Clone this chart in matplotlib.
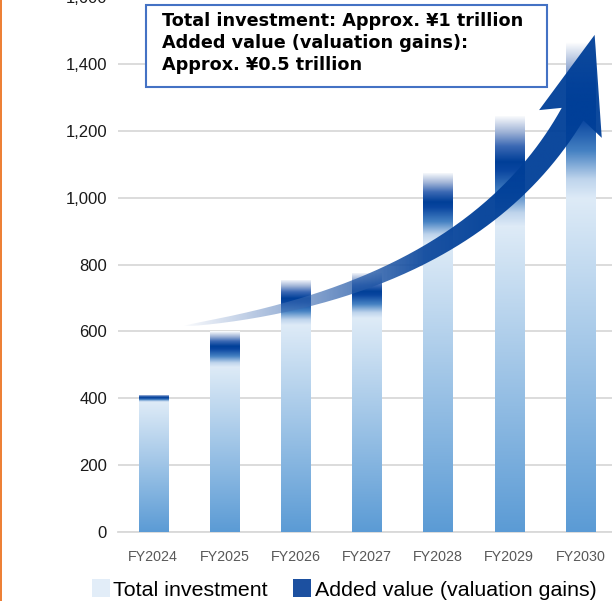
import numpy as np
import matplotlib.pyplot as plt
from matplotlib.patches import Patch, PathPatch, Rectangle
from matplotlib.path import Path
from matplotlib.lines import Line2D
from matplotlib.ticker import FuncFormatter

plt.rcParams["font.family"] = ["Liberation Sans", "DejaVu Sans"]

years = ["FY2024", "FY2025", "FY2026", "FY2027", "FY2028", "FY2029", "FY2030"]
total_investment = [388, 495, 620, 640, 865, 915, 1000]
added_value = [22, 105, 135, 135, 210, 330, 465]
y_ticks = [0, 200, 400, 600, 800, 1000, 1200, 1400, 1600]

legend_labels = ["Total investment", "Added value (valuation gains)"]
box_text = ("Total investment: Approx. \u00a51 trillion\n"
            "Added value (valuation gains):\n"
            "Approx. \u00a50.5 trillion")

# decorative growth arrow (data coords): bezier start, control, end, tip, barbs
arrow_start = (0.42, 616)
arrow_ctrl = (4.46, 724)
arrow_end = (5.89, 1250)
arrow_tip = (6.20, 1487)
arrow_barb_left = (5.42, 1262)
arrow_barb_right = (6.30, 1179)

# gradient stops, position 0 = bottom of the segment
invest_stops = [(0.0, (91, 155, 213)), (1.0, (222, 235, 247))]
added_stops = [(0.0, (221, 234, 247)), (0.12, (190, 212, 236)), (0.3, (70, 130, 195)),
               (0.5, (10, 70, 160)), (0.58, (0, 63, 152)), (0.72, (60, 105, 180)),
               (0.85, (160, 180, 215)), (1.0, (255, 255, 255))]


def gradient(stops, n=256):
    pos = [s[0] for s in stops]
    cols = np.array([s[1] for s in stops]) / 255
    t = np.linspace(0, 1, n)
    rgb = np.stack([np.interp(t, pos, cols[:, k]) for k in range(3)], axis=1)
    return rgb[:, None, :]


def fill_bars(ax, bars, stops):
    img = gradient(stops)
    for b in bars:
        b.set_facecolor("none")
        b.set_edgecolor("none")
        x0, y0 = b.get_x(), b.get_y()
        im = ax.imshow(img, extent=[x0, x0 + b.get_width(), y0, y0 + b.get_height()],
                       origin="lower", aspect="auto", interpolation="bilinear", zorder=2)
        im.set_clip_path(b)


fig = plt.figure(figsize=(6.12, 6.01), dpi=100)
ax = fig.add_axes([117.5 / 612, 69 / 601, 498.5 / 612, 534.9 / 601])

x = np.arange(len(years))
inv_bars = ax.bar(x, total_investment, width=0.41, zorder=2)
add_bars = ax.bar(x, added_value, width=0.41, bottom=total_investment, zorder=2)
fill_bars(ax, inv_bars, invest_stops)
fill_bars(ax, add_bars, added_stops)

ax.set_xlim(-0.5, 6.5)
ax.set_ylim(0, 1600)
ax.set_yticks(y_ticks)
ax.yaxis.set_major_formatter(FuncFormatter(lambda v, p: f"{int(v):,}"))
ax.set_xticks(x)
ax.set_xticklabels(years)
ax.tick_params(axis="y", length=0, pad=7.5, labelsize=12, labelcolor="#1a1a1a")
ax.tick_params(axis="x", length=0, pad=13, labelsize=10.3, labelcolor="#595959")
ax.grid(axis="y", color="#d9d9d9", linewidth=1.3, zorder=0)
ax.axhline(0, color="#d9d9d9", linewidth=1.3, clip_on=False, zorder=0.5)
ax.set_axisbelow(True)
for s in ax.spines.values():
    s.set_visible(False)

# arrow built in display space so the width is in pixels
to_px = ax.transData.transform
to_data = ax.transData.inverted().transform
p0, p1, p2 = to_px(arrow_start), to_px(arrow_ctrl), to_px(arrow_end)
t = np.linspace(0, 1, 200)[:, None]
curve = (1 - t) ** 2 * p0 + 2 * (1 - t) * t * p1 + t ** 2 * p2
tang = 2 * (1 - t) * (p1 - p0) + 2 * t * (p2 - p1)
tang = tang / np.linalg.norm(tang, axis=1)[:, None]
normal = np.column_stack([-tang[:, 1], tang[:, 0]])
half_w = 12.5 * t ** 0.6
upper = curve + normal * half_w
lower = curve - normal * half_w
head = to_px([arrow_barb_left, arrow_tip, arrow_barb_right])
poly_px = np.vstack([upper, head, lower[::-1]])
poly = to_data(poly_px)
arrow_patch = PathPatch(Path(poly, closed=False), facecolor="none", edgecolor="none")
ax.add_patch(arrow_patch)

xs_px = np.linspace(poly_px[:, 0].min(), poly_px[:, 0].max(), 300)
frac = np.clip((xs_px - poly_px[:, 0].min()) / 240, 0, 1)
alpha = frac ** 0.7
tail_col = np.array([140, 165, 210]) / 255
head_col = np.array([0, 63, 152]) / 255
mix = np.clip((xs_px - poly_px[:, 0].min()) / 300, 0, 1) ** 0.6
rgba = np.zeros((1, len(xs_px), 4))
rgba[0, :, :3] = tail_col * (1 - mix[:, None]) + head_col * mix[:, None]
rgba[0, :, 3] = alpha * 0.95
ext = [poly[:, 0].min(), poly[:, 0].max(), poly[:, 1].min(), poly[:, 1].max()]
im = ax.imshow(rgba, extent=ext, origin="lower", aspect="auto",
               interpolation="bilinear", zorder=4)
im.set_clip_path(arrow_patch)
ax.set_xlim(-0.5, 6.5)
ax.set_ylim(0, 1600)

# note box
fig.add_artist(Rectangle((146 / 612, 1 - 87 / 601), 401 / 612, 82 / 601,
                         transform=fig.transFigure, facecolor="white",
                         edgecolor="#4472c4", linewidth=1.5, zorder=10))
fig.text(162 / 612, 1 - 12 / 601, box_text, ha="left", va="top", fontsize=12.7,
         fontweight="bold", family="DejaVu Sans", linespacing=1.3, zorder=11)

handles = [Patch(facecolor="#e2edf8"), Patch(facecolor="#1c50a0")]
fig.legend(handles, legend_labels, loc="center", bbox_to_anchor=(0.562, 0.019), ncol=2,
           frameon=False, fontsize=15.4, handlelength=0.85, handleheight=0.9,
           handletextpad=0.15, columnspacing=1.2)

fig.add_artist(Line2D([0.6 / 612, 0.6 / 612], [0, 1], color="#ed7d31", linewidth=1.4,
                      transform=fig.transFigure))

fig.savefig("out.png", dpi=100)
